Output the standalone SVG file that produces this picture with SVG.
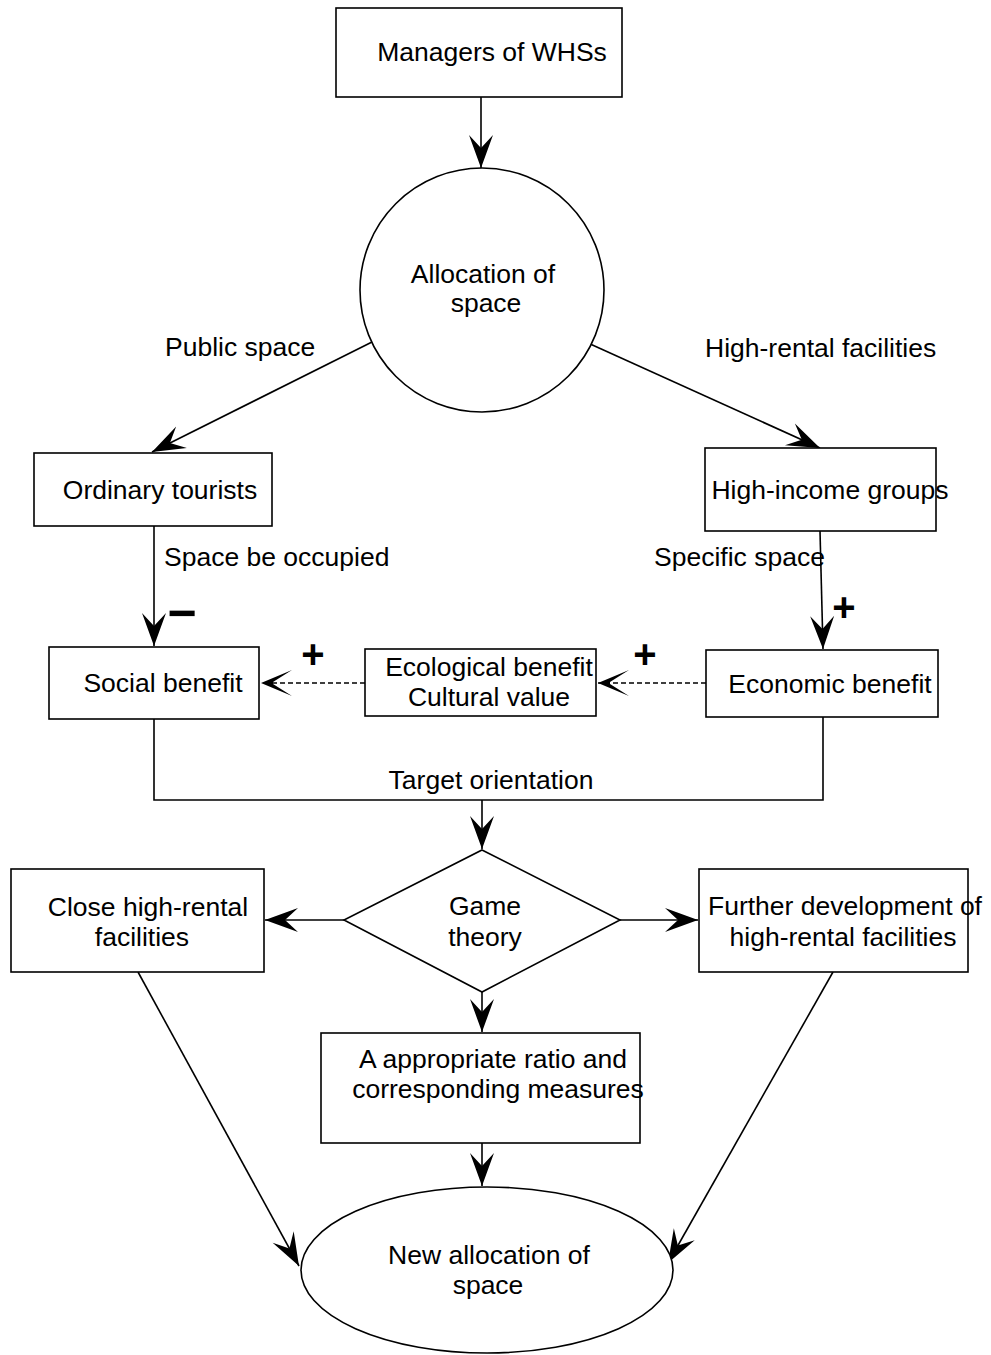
<svg xmlns="http://www.w3.org/2000/svg" width="991" height="1355" viewBox="0 0 991 1355">
<style>
.box{fill:#fff;stroke:#000;stroke-width:1.6}
.t{font-family:"Liberation Sans",Arial,sans-serif;font-size:26.5px;fill:#000;text-anchor:middle}
.ts{font-family:"Liberation Sans",Arial,sans-serif;font-size:26.5px;fill:#000;text-anchor:start}
.sign{font-family:"Liberation Sans",Arial,sans-serif;font-weight:bold;fill:#000;text-anchor:middle}
.ln{fill:none;stroke:#000;stroke-width:1.6}
.dash{fill:none;stroke:#000;stroke-width:1.4;stroke-dasharray:5,3}
</style>
<defs>
<marker id="ah" markerUnits="userSpaceOnUse" markerWidth="40" markerHeight="30" viewBox="-34 -15 36 30" refX="0" refY="0" orient="auto">
<path d="M0,0 L-33,-12 L-20,0 L-33,12 Z" fill="#000"/>
</marker>
<marker id="ao" markerUnits="userSpaceOnUse" markerWidth="40" markerHeight="30" viewBox="-34 -15 36 30" refX="0" refY="0" orient="auto">
<path d="M0,0 L-31,-13 L-12,-1 L-12,1 L-31,13 Z" fill="#000"/>
</marker>
</defs>

<g id="connectors">
<line class="ln" x1="481" y1="97" x2="481" y2="168" marker-end="url(#ah)"/>
<line class="ln" x1="372" y1="342" x2="152" y2="452" marker-end="url(#ah)"/>
<line class="ln" x1="588" y1="343" x2="820" y2="448" marker-end="url(#ah)"/>
<line class="ln" x1="154" y1="526" x2="154" y2="646" marker-end="url(#ah)"/>
<line class="ln" x1="820" y1="531" x2="823" y2="649" marker-end="url(#ah)"/>
<line class="dash" x1="706" y1="683" x2="598" y2="683" marker-end="url(#ao)"/>
<line class="dash" x1="365" y1="683" x2="261" y2="683" marker-end="url(#ao)"/>
<polyline class="ln" points="154,719 154,800 823,800 823,717"/>
<line class="ln" x1="482" y1="800" x2="482" y2="849" marker-end="url(#ah)"/>
<line class="ln" x1="344" y1="920" x2="265" y2="920" marker-end="url(#ah)"/>
<line class="ln" x1="620" y1="920" x2="698" y2="920" marker-end="url(#ah)"/>
<line class="ln" x1="482" y1="992" x2="482" y2="1032" marker-end="url(#ah)"/>
<line class="ln" x1="482" y1="1143" x2="482" y2="1186" marker-end="url(#ah)"/>
<line class="ln" x1="138" y1="972" x2="299" y2="1266" marker-end="url(#ah)"/>
<line class="ln" x1="833" y1="972" x2="668" y2="1263" marker-end="url(#ah)"/>
<text class="ts" x="165" y="356">Public space</text>
<text class="ts" x="705" y="357">High-rental facilities</text>
<text class="ts" x="164" y="566">Space be occupied</text>
<text class="ts" x="654" y="566">Specific space</text>
<text class="t" x="491" y="789">Target orientation</text>
<text class="sign" x="182" y="630" font-size="50">−</text>
<text class="sign" x="844" y="621" font-size="40">+</text>
<text class="sign" x="645" y="668" font-size="40">+</text>
<text class="sign" x="313" y="668" font-size="40">+</text>
</g>

<g id="managers">
<rect class="box" x="336" y="8" width="286" height="89"/>
<text class="t" x="492" y="61">Managers of WHSs</text>
</g>
<g id="allocation">
<circle class="box" cx="482" cy="290" r="122"/>
<text class="t" x="483" y="283">Allocation of</text>
<text class="t" x="486" y="312">space</text>
</g>
<g id="ordinary">
<rect class="box" x="34" y="453" width="238" height="73"/>
<text class="t" x="160" y="499">Ordinary tourists</text>
</g>
<g id="highincome">
<rect class="box" x="705" y="448" width="231" height="83"/>
<text class="t" x="830" y="499">High-income groups</text>
</g>
<g id="social">
<rect class="box" x="49" y="647" width="210" height="72"/>
<text class="t" x="163" y="692">Social benefit</text>
</g>
<g id="ecological">
<rect class="box" x="365" y="649" width="231" height="67"/>
<text class="t" x="489" y="676">Ecological benefit</text>
<text class="t" x="489" y="706">Cultural value</text>
</g>
<g id="economic">
<rect class="box" x="706" y="650" width="232" height="67"/>
<text class="t" x="830" y="693">Economic benefit</text>
</g>
<g id="game">
<polygon class="box" points="482,850 620,920 482,992 344,920"/>
<text class="t" x="485" y="915">Game</text>
<text class="t" x="485" y="946">theory</text>
</g>
<g id="close">
<rect class="box" x="11" y="869" width="253" height="103"/>
<text class="t" x="148" y="916">Close high-rental</text>
<text class="t" x="142" y="946">facilities</text>
</g>
<g id="further">
<rect class="box" x="699" y="869" width="269" height="103"/>
<text class="t" x="845" y="915">Further development of</text>
<text class="t" x="843" y="946">high-rental facilities</text>
</g>
<g id="ratio">
<rect class="box" x="321" y="1033" width="319" height="110"/>
<text class="t" x="493" y="1068">A appropriate ratio and</text>
<text class="t" x="498" y="1098">corresponding measures</text>
</g>
<g id="newalloc">
<ellipse class="box" cx="487" cy="1270" rx="186" ry="83"/>
<text class="t" x="489" y="1264">New allocation of</text>
<text class="t" x="488" y="1294">space</text>
</g>
</svg>
